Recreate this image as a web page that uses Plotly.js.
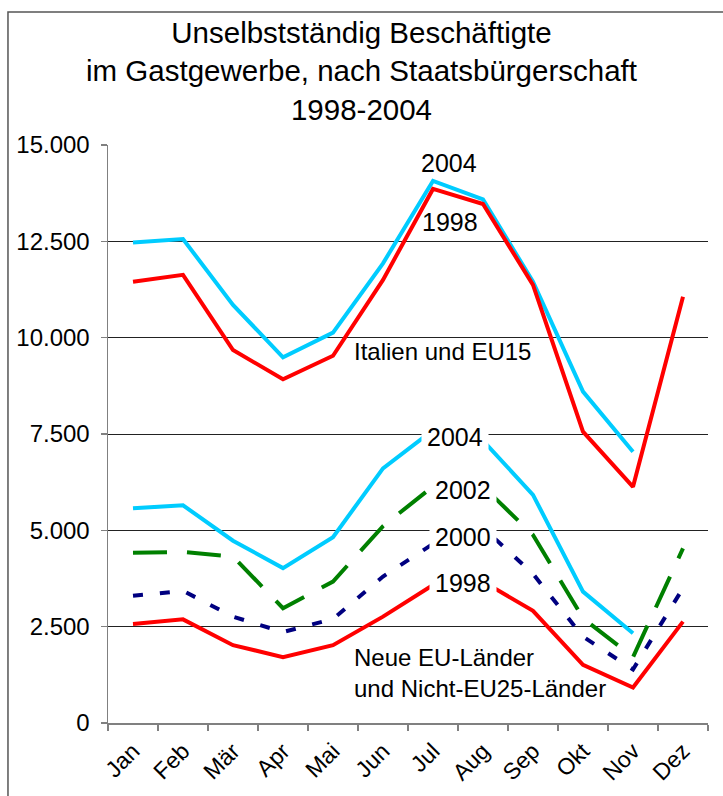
<!DOCTYPE html>
<html>
<head>
<meta charset="utf-8">
<script src="https://cdn.plot.ly/plotly-3.0.1.min.js"></script>
<style>
  html, body { margin: 0; padding: 0; background: #fff; }
  #chart { width: 723px; height: 796px; }
</style>
</head>
<body>
<div id="chart"></div>
<script>
// ---- data ----
const months = ["Jan", "Feb", "Mär", "Apr", "Mai", "Jun", "Jul", "Aug", "Sep", "Okt", "Nov", "Dez"];

// Italien und EU15
const italien2004 = [12470, 12560, 10850, 9490, 10130, 11930, 14070, 13590, 11450, 8600, 7040, null];
const italien1998 = [11450, 11630, 9680, 8920, 9530, 11500, 13860, 13470, 11370, 7560, 6130, 11060];

// Neue EU-Länder und Nicht-EU25-Länder
const neu2004 = [5570, 5650, 4730, 4020, 4820, 6610, 7600, 7330, 5920, 3410, 2330, null];
const neu2002 = [4420, 4440, 4320, 2980, 3670, 5110, 6140, 6140, 4880, 2720, 1710, 4530];
const neu2000 = [3300, 3430, 2760, 2360, 2700, 3800, 4650, 5070, 3870, 2240, 1390, 3500];
const neu1998 = [2570, 2690, 2020, 1710, 2020, 2760, 3580, 3670, 2910, 1510, 920, 2630];

const yTickVals = [0, 2500, 5000, 7500, 10000, 12500, 15000];

const titleText = "Unselbstständig Beschäftigte<br>im Gastgewerbe, nach Staatsbürgerschaft<br>1998-2004";
const font = "Liberation Sans, Arial, sans-serif";

function line(y, color, dash) {
  return {
    type: "scatter", mode: "lines", x: months, y: y,
    line: { color: color, width: 4, dash: dash || "solid" },
    connectgaps: false, hoverinfo: "skip", showlegend: false
  };
}

const traces = [
  line(neu2004, "#00CCFF"),
  line(neu2002, "#008000", "34px,20px"),
  line(neu2000, "#000080", "10px,17px"),
  line(neu1998, "#FF0000"),
  line(italien2004, "#00CCFF"),
  line(italien1998, "#FF0000")
];

function lab(text, x, y, size, opts) {
  return Object.assign({
    text: text, xref: "paper", yref: "paper", x: x, y: y,
    xanchor: "center", yanchor: "middle", showarrow: false,
    font: { family: font, size: size, color: "#000" }
  }, opts || {});
}
const whiteBox = { bgcolor: "#ffffff", borderpad: 5 };

const layout = {
  width: 723, height: 796,
  margin: { l: 108, r: 15, t: 145, b: 73 },
  paper_bgcolor: "#ffffff", plot_bgcolor: "#ffffff",
  separators: ",.",
  font: { family: font, color: "#000" },
  title: {
    text: titleText,
    font: { family: font, size: 29.5, color: "#000" },
    xref: "container", x: 0.5, xanchor: "center",
    yref: "container", y: 0.946, yanchor: "top"
  },
  xaxis: {
    type: "category",
    range: [-0.5, 11.5],
    showgrid: false, zeroline: false,
    showline: true, linecolor: "#808080", linewidth: 1.5,
    ticks: "outside", tickson: "boundaries", ticklen: 6, tickcolor: "#808080", tickwidth: 1.5,
    tickangle: -45,
    ticklabelstandoff: 4,
    tickfont: { family: font, size: 23, color: "#000" }
  },
  yaxis: {
    range: [0, 15000],
    tickvals: yTickVals, tickformat: ",.0f",
    showgrid: true, gridcolor: "#222222", gridwidth: 1,
    zeroline: false,
    showline: true, linecolor: "#808080", linewidth: 1.5,
    ticks: "outside", ticklen: 6, tickcolor: "#808080", tickwidth: 1.5,
    ticklabelstandoff: 6,
    tickfont: { family: font, size: 24, color: "#000" }
  },
  annotations: [
    lab("2004", 0.568, 0.969, 25),
    lab("1998", 0.570, 0.867, 25),
    lab("Italien und EU15", 0.4067, 0.642, 24, { xanchor: "left" }),
    lab("2004", 0.578, 0.495, 25, whiteBox),
    lab("2002", 0.591, 0.403, 25, whiteBox),
    lab("2000", 0.591, 0.322, 25, whiteBox),
    lab("1998", 0.592, 0.242, 25, whiteBox),
    lab("Neue EU-Länder<br>und Nicht-EU25-Länder", 0.4067, 0.087, 24, { xanchor: "left", align: "left" })
  ],
  shapes: [
    { type: "rect", xref: "paper", yref: "paper",
      x0: -0.1667, x1: 1.3, y0: -0.4, y1: 1.230,
      line: { color: "#555555", width: 1.5 }, fillcolor: "rgba(0,0,0,0)", layer: "below" }
  ]
};

Plotly.newPlot("chart", traces, layout, { displayModeBar: false, staticPlot: true });
</script>
</body>
</html>
